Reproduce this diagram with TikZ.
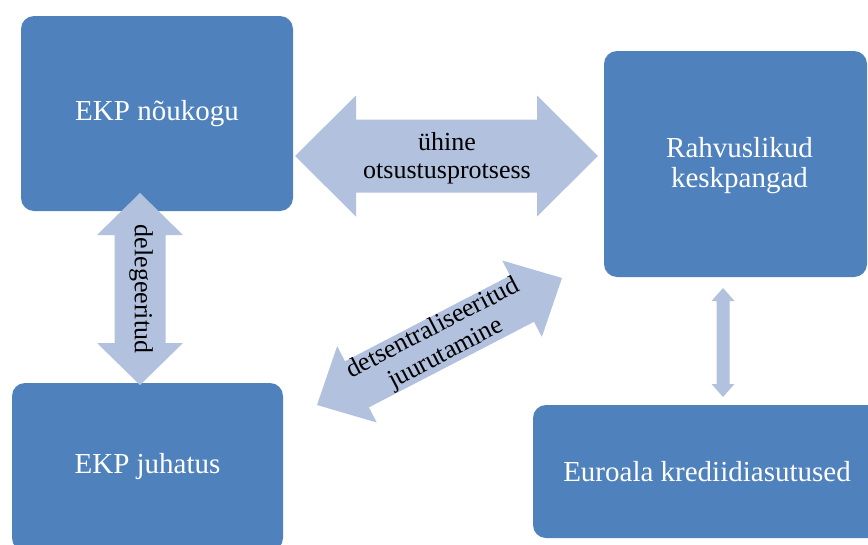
\documentclass[tikz,border=0pt]{standalone}
\usepackage{fontspec}
\setmainfont{Liberation Serif}
\usetikzlibrary{calc}
\definecolor{boxblue}{RGB}{79,129,189}
\definecolor{arrowblue}{RGB}{178,193,221}
% #1 start, #2 end, #3 shaft half width, #4 head half width, #5 head length
\newcommand\dArrow[5]{%
  \coordinate (#1-h) at ($(#1)!#5!(#2)$);
  \coordinate (#2-h) at ($(#2)!#5!(#1)$);
  \fill[arrowblue] (#1)
    -- ($(#1-h)!#4!90:(#2)$) -- ($(#1-h)!#3!90:(#2)$)
    -- ($(#2-h)!#3!-90:(#1)$) -- ($(#2-h)!#4!-90:(#1)$)
    -- (#2)
    -- ($(#2-h)!#4!90:(#1)$) -- ($(#2-h)!#3!90:(#1)$)
    -- ($(#1-h)!#3!-90:(#2)$) -- ($(#1-h)!#4!-90:(#2)$) -- cycle;
}
\tikzset{
  bx/.style={fill=boxblue, rounded corners=13pt, text=white, align=center,
    inner sep=0pt, font=\fontsize{29}{31}\selectfont},
  bxtext/.style={text=white, align=center, inner sep=0pt,
    font=\fontsize{29}{30}\selectfont},
  lbl/.style={text=black, align=center, inner sep=0pt,
    font=\fontsize{26}{28}\selectfont}
}
\begin{document}
\begin{tikzpicture}[x=1pt,y=-1pt]
\useasboundingbox (0,0) rectangle (868,544);
% boxes
\node[bx, minimum width=272pt, minimum height=195pt] (b1) at (157,113.5) {EKP nõukogu};
\node[bx, minimum width=263pt, minimum height=226pt] (b2) at (735.5,164) {};
\node[bxtext] (b2t) at (739.5,166) {Rahvuslikud\\keskpangad};
\node[bx, minimum width=271pt, minimum height=168pt] (b3) at (147.5,467) {EKP juhatus};
\node[bx, minimum width=348pt, minimum height=133pt] (b4) at (707,471.5) {Euroala krediidiasutused};
% arrow end points
\coordinate (hL) at (295,156);
\coordinate (hR) at (598,156);
\coordinate (vT) at (140,193);
\coordinate (vB) at (140,385);
\coordinate (dL) at (317,405);
\coordinate (dR) at (562,278);
\coordinate (sT) at (723,288);
\coordinate (sB) at (723,397);
\dArrow{hL}{hR}{36.5pt}{60.5pt}{61pt}
\dArrow{vT}{vB}{25.5pt}{43pt}{42pt}
\dArrow{dL}{dR}{26pt}{43pt}{45pt}
\dArrow{sT}{sB}{6.5pt}{11.5pt}{13pt}
% labels
\node[lbl] (l1) at (447,158) {ühine\\otsustusprotsess};
\node[lbl, rotate=-90] (l2) at (141,289) {delegeeritud};
\node[lbl, rotate=27.4] (l3) at ($(dL)!0.5!(dR)$) {detsentraliseeritud\\juurutamine};
\end{tikzpicture}
\end{document}
